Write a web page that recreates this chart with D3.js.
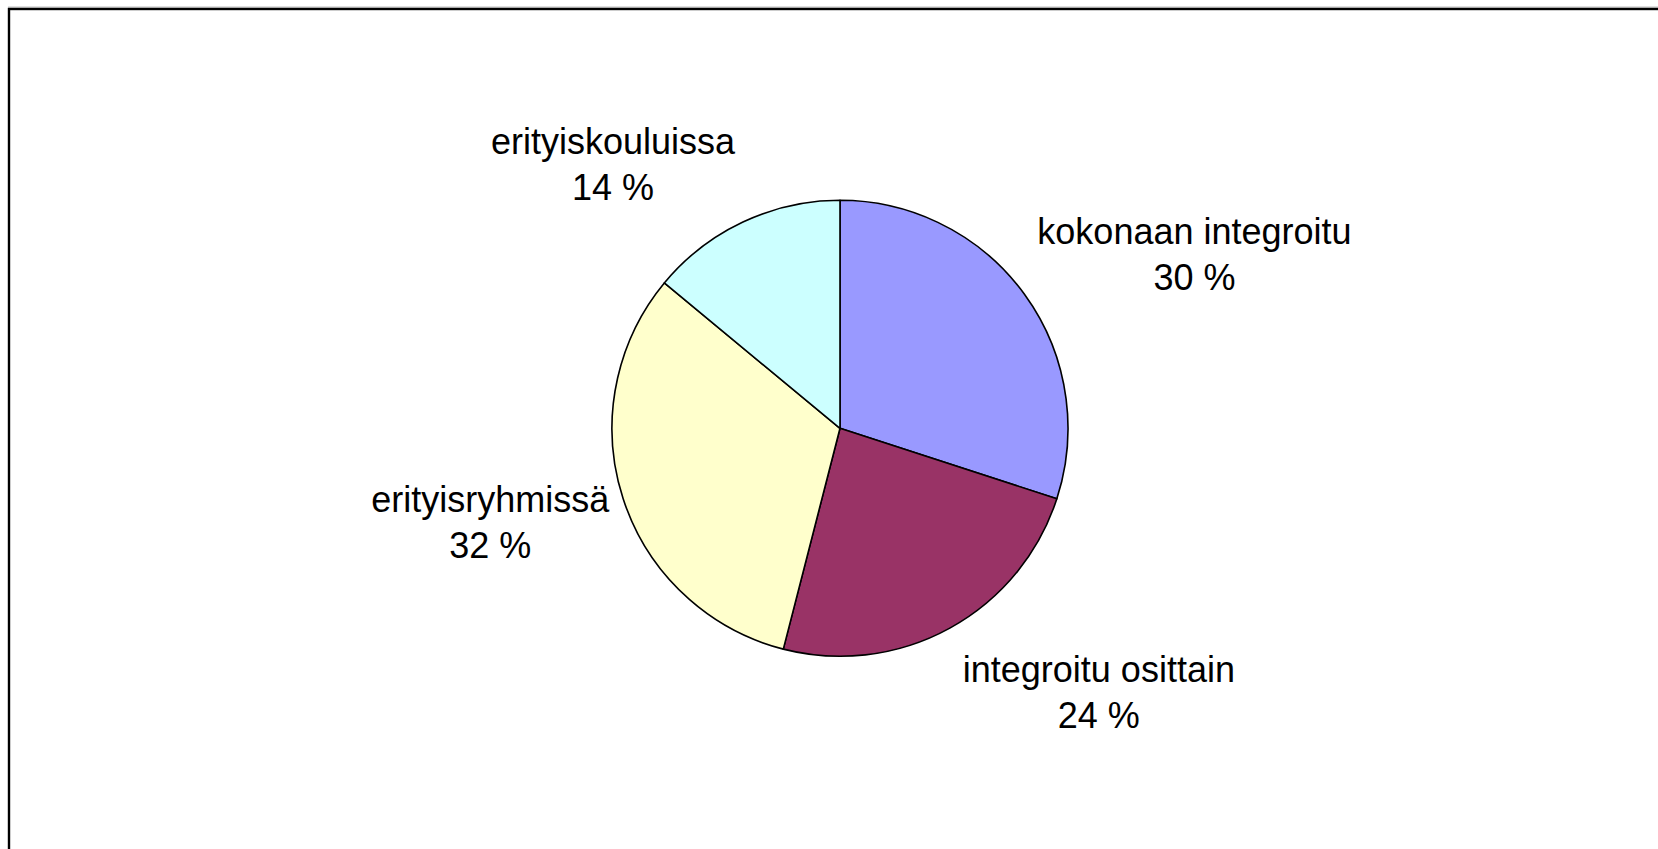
<!DOCTYPE html>
<html>
<head>
<meta charset="utf-8">
<script src="https://cdn.jsdelivr.net/npm/d3@7"></script>
<style>
  html, body { margin: 0; padding: 0; background: #fff; overflow: hidden; }
  svg { display: block; }
</style>
</head>
<body>
<script>
// ---- data ----
const categories = ["kokonaan integroitu", "integroitu osittain", "erityisryhmissä", "erityiskouluissa"];
const values = [30, 24, 32, 14];
const valueLabels = ["30 %", "24 %", "32 %", "14 %"];
const colors = ["#9999FF", "#993366", "#FFFFCC", "#CCFFFF"];

// ---- layout (not data) ----
const W = 1658, H = 849;
const cx = 840, cy = 428.3, R = 228;
const labelNudge = [[170, -50], [149, 53.5], [-133, 13], [-130, -68]];

const svg = d3.select("body").append("svg").attr("width", W).attr("height", H);

// chart area border (right/bottom lie outside the window)
svg.append("rect").attr("x", 9).attr("y", 9).attr("width", W + 50).attr("height", H + 50)
  .attr("fill", "#fff").attr("stroke", "#000").attr("stroke-width", 2.4);
svg.append("line").attr("x1", 8).attr("x2", W).attr("y1", 7.2).attr("y2", 7.2)
  .attr("stroke", "#999").attr("stroke-width", 1);

const pie = d3.pie().value(d => d).sort(null);
const arcs = pie(values);
const arc = d3.arc().innerRadius(0).outerRadius(R);
const edge = d3.arc().innerRadius(R).outerRadius(R);

const g = svg.append("g").attr("transform", `translate(${cx},${cy})`);
g.selectAll("path").data(arcs).join("path")
  .attr("d", arc)
  .attr("fill", (d, i) => colors[i])
  .attr("stroke", "#000")
  .attr("stroke-width", 1.6)
  .attr("stroke-linejoin", "round");

const labels = g.selectAll("text.lbl").data(arcs).join("text")
  .attr("class", "lbl")
  .attr("font-family", "Liberation Sans, Arial, sans-serif")
  .attr("font-size", 36)
  .attr("fill", "#000")
  .attr("text-anchor", "middle")
  .attr("transform", (d, i) => {
    const c = edge.centroid(d);
    return `translate(${c[0] + labelNudge[i][0]},${c[1] + labelNudge[i][1]})`;
  });
labels.append("tspan").attr("x", 0).attr("y", 0).text((d, i) => categories[i]);
labels.append("tspan").attr("x", 0).attr("y", 46).text((d, i) => valueLabels[i]);
</script>
</body>
</html>
